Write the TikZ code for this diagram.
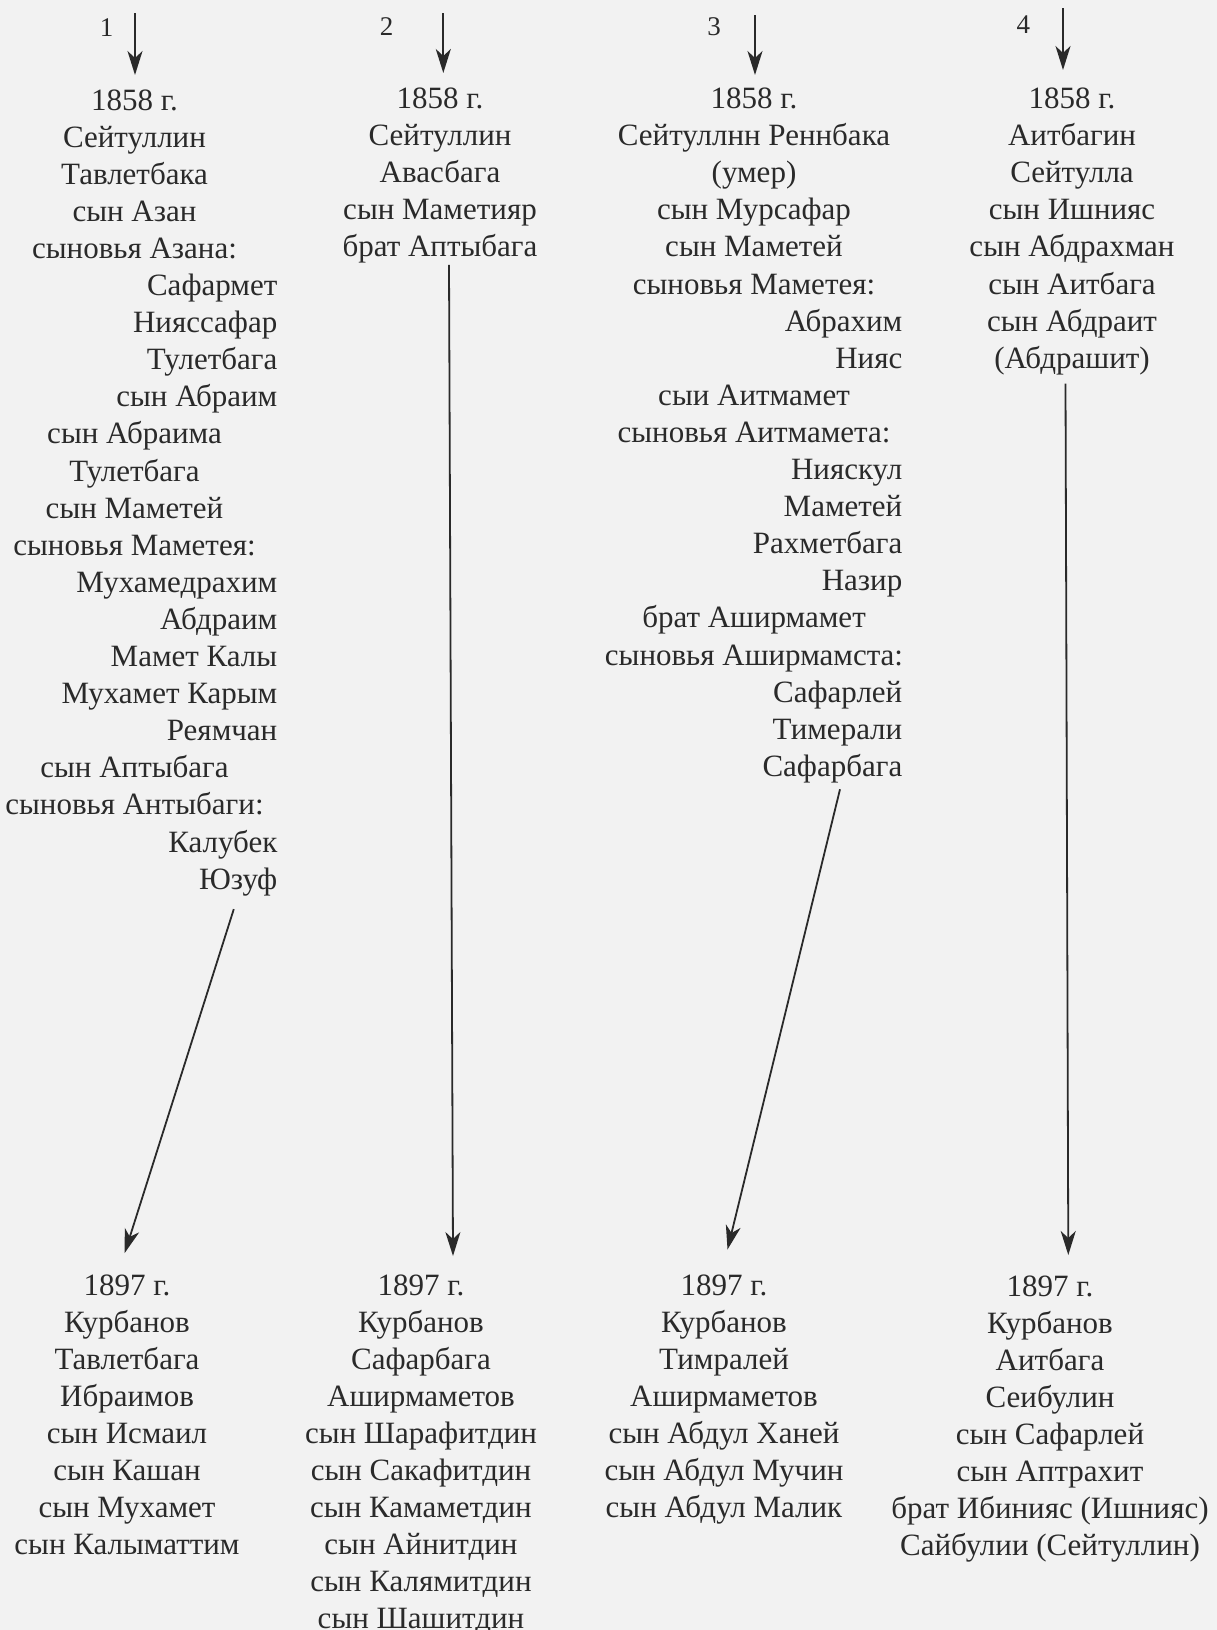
\documentclass[tikz,border=0pt]{standalone}
\usepackage{fontspec}
\setmainfont{Liberation Serif}
\usetikzlibrary{arrows.meta,calc}
\definecolor{ink}{RGB}{42,42,42}
\definecolor{paper}{RGB}{242,242,242}
\newcommand\mainsz{\fontsize{31pt}{37pt}\selectfont}
\newcommand\labsz{\fontsize{27pt}{32pt}\selectfont}
% #1 name, #2 centre x, #3 right edge x, #4 first baseline y, #5 line step, #6 list of a/text
\newcommand\textblock[6]{%
  \foreach [count=\i] \al/\tx in {#6}{%
    \pgfmathsetmacro\yy{#4+(\i-1)*#5}%
    \if r\al
      \node[txt, anchor=base east] (#1-\i) at (#3,\yy) {\tx};
    \else
      \node[txt, anchor=base] (#1-\i) at (#2,\yy) {\tx};
    \fi}}
\begin{document}
\begin{tikzpicture}[x=1pt,y=-1pt,
  txt/.style={font=\mainsz, text=ink, inner sep=0pt},
  lab/.style={font=\labsz, text=ink, inner sep=0pt},
  arr/.style={draw=ink, line width=1.8pt, -{Stealth[length=24pt,width=15pt,inset=7pt]}}]
\useasboundingbox (0,0) rectangle (1217,1630);
\clip (0,0) rectangle (1217,1630);
\fill[paper] (0,0) rectangle (1217,1630);

% column labels
\node[lab, anchor=base] (lab1) at (106.7,36) {1};
\node[lab, anchor=base] (lab2) at (386.7,35) {2};
\node[lab, anchor=base] (lab3) at (714,35) {3};
\node[lab, anchor=base] (lab4) at (1023.3,33) {4};

% 1858 blocks
\textblock{c1}{134.5}{277.5}{110}{37.1}{c/1858 г.,c/Сейтуллин,c/Тавлетбака,c/сын Азан,c/сыновья Азана:,r/Сафармет,r/Нияссафар,r/Тулетбага,r/сын Абраим,c/сын Абраима,c/Тулетбага,c/сын Маметей,c/сыновья Маметея:,r/Мухамедрахим,r/Абдраим,r/Мамет Калы,r/Мухамет Карым,r/Реямчан,c/сын Аптыбага,c/сыновья Антыбаги:,r/Калубек,r/Юзуф}
\textblock{c2}{440}{440}{108.5}{37.1}{c/1858 г.,c/Сейтуллин,c/Авасбага,c/сын Маметияр,c/брат Аптыбага}
\textblock{c3}{754}{902.5}{108.5}{37.1}{c/1858 г.,c/Сейтуллнн Реннбака,c/(умер),c/сын Мурсафар,c/сын Маметей,c/сыновья Маметея:,r/Абрахим,r/Нияс,c/сыи Аитмамет,c/сыновья Аитмамета:,r/Нияскул,r/Маметей,r/Рахметбага,r/Назир,c/брат Аширмамет,c/сыновья Аширмамста:,r/Сафарлей,r/Тимерали,r/Сафарбага}
\textblock{c4}{1072}{1072}{108.5}{37.1}{c/1858 г.,c/Аитбагин,c/Сейтулла,c/сын Ишнияс,c/сын Абдрахман,c/сын Аитбага,c/сын Абдраит,c/(Абдрашит)}

% 1897 blocks
\textblock{b1}{127}{127}{1295}{37.1}{c/1897 г.,c/Курбанов,c/Тавлетбага,c/Ибраимов,c/сын Исмаил,c/сын Кашан,c/сын Мухамет,c/сын Калыматтим}
\textblock{b2}{421}{421}{1295}{37.1}{c/1897 г.,c/Курбанов,c/Сафарбага,c/Аширмаметов,c/сын Шарафитдин,c/сын Сакафитдин,c/сын Камаметдин,c/сын Айнитдин,c/сын Калямитдин,c/сын Шашитдин}
\textblock{b3}{724}{724}{1295}{37.1}{c/1897 г.,c/Курбанов,c/Тимралей,c/Аширмаметов,c/сын Абдул Ханей,c/сын Абдул Мучин,c/сын Абдул Малик}
\textblock{b4}{1050}{1050}{1296}{37.1}{c/1897 г.,c/Курбанов,c/Аитбага,c/Сеибулин,c/сын Сафарлей,c/сын Аптрахит,c/брат Ибинияс (Ишнияс),c/Сайбулии (Сейтуллин)}

% top arrows
\coordinate (n1) at (135,13);
\coordinate (n2) at (443.3,13);
\coordinate (n3) at (755,15);
\coordinate (n4) at (1063,8);
\draw[arr] (n1) -- ($(c1-1.base)+(0.5,-35)$);
\draw[arr] (n2) -- ($(c2-1.base)+(3.3,-35.5)$);
\draw[arr] (n3) -- ($(c3-1.base)+(1,-33.5)$);
\draw[arr] (n4) -- ($(c4-1.base)+(-9,-38.5)$);

% long arrows 1858 -> 1897
\draw[arr] ($(c1-22.base east)+(-43.7,20)$) -- ($(b1-1.base)+(-2.3,-42)$);
\draw[arr] ($(c2-5.base)+(9,8)$) -- ($(b2-1.base)+(32,-39)$);
\draw[arr] ($(c3-19.base east)+(-62.5,13)$) -- ($(b3-1.base)+(3.5,-45.5)$);
\draw[arr] ($(c4-8.base)+(-6.5,15.5)$) -- ($(b4-1.base)+(18.3,-41)$);
\end{tikzpicture}
\end{document}
